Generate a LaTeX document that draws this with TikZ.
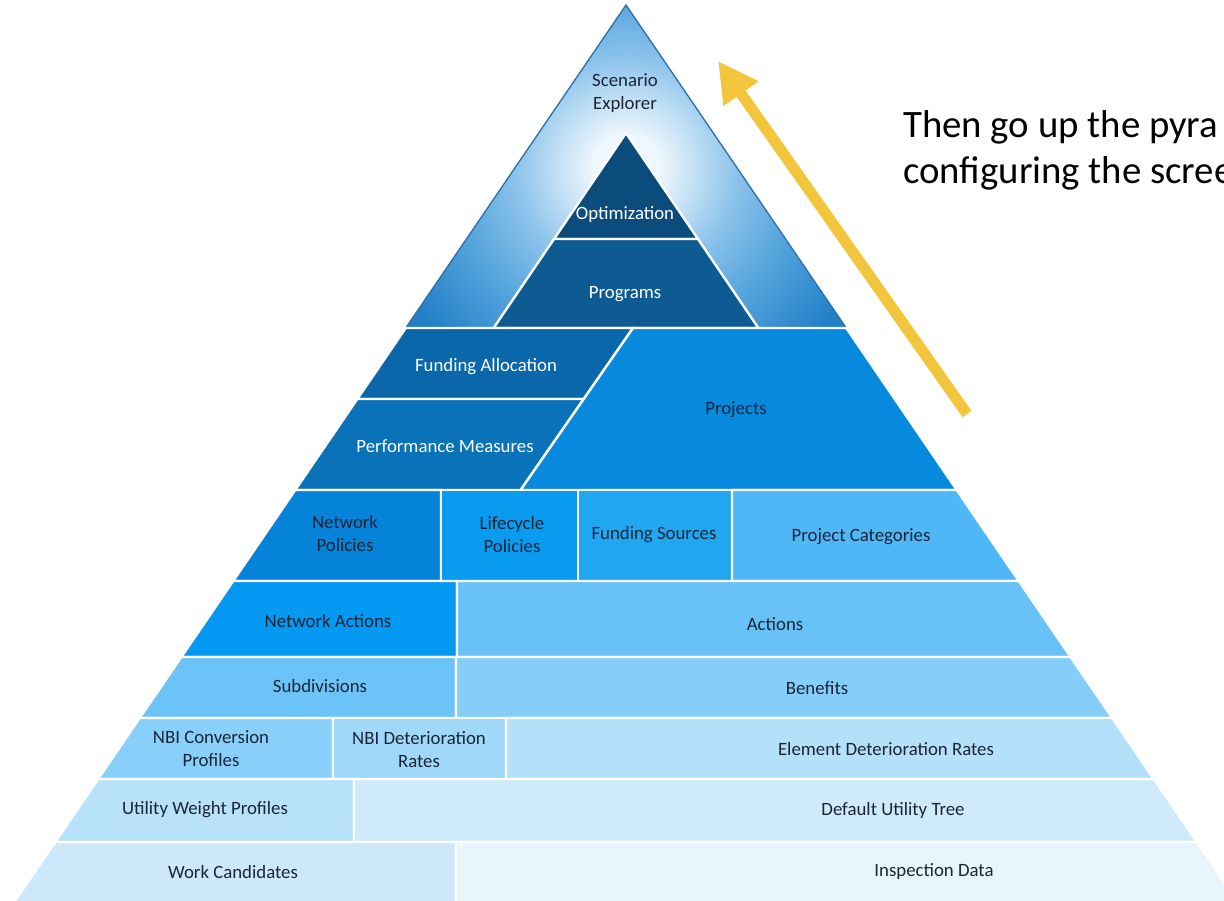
\documentclass[tikz,border=0pt]{standalone}
\usepackage{fontspec}
\setmainfont{Carlito}
\usetikzlibrary{arrows.meta}
\definecolor{bigin}{HTML}{EEF7FD}
\definecolor{bigl}{HTML}{C6E2F6}
\definecolor{bigm}{HTML}{8AC2EA}
\definecolor{bigmid}{HTML}{55A4DC}
\definecolor{bigout}{HTML}{2380C8}
\definecolor{bigfar}{HTML}{1B76C0}
\definecolor{bigedge}{HTML}{2A6FA8}
\definecolor{optc}{HTML}{0B4C7C}
\definecolor{progc}{HTML}{0E5B93}
\definecolor{fundc}{HTML}{0A67AA}
\definecolor{perfc}{HTML}{0A72B9}
\definecolor{projc}{HTML}{0789DE}
\definecolor{netpolc}{HTML}{0583D8}
\definecolor{lifec}{HTML}{089BEF}
\definecolor{fsrcc}{HTML}{21A7F2}
\definecolor{pcatc}{HTML}{4FB7F6}
\definecolor{netactc}{HTML}{0398F1}
\definecolor{actc}{HTML}{68C2F7}
\definecolor{subdc}{HTML}{6CC3F7}
\definecolor{benc}{HTML}{84CEF9}
\definecolor{nbicc}{HTML}{88CFF9}
\definecolor{nbidc}{HTML}{A0D8FA}
\definecolor{elemc}{HTML}{B5E0FA}
\definecolor{uwpc}{HTML}{B8E1FA}
\definecolor{dutc}{HTML}{CFEAFB}
\definecolor{workc}{HTML}{CDE8FB}
\definecolor{inspc}{HTML}{E8F5FD}
\definecolor{txtdark}{HTML}{1A2536}
\definecolor{arrowc}{HTML}{F1C53C}
\pgfdeclareradialshading{bigshade}{\pgfpoint{0bp}{0bp}}{color(0bp)=(bigin); color(2.5bp)=(bigin); color(5bp)=(bigl); color(8.5bp)=(bigm); color(13bp)=(bigmid); color(19bp)=(bigout); color(25bp)=(bigfar); color(50bp)=(bigfar)}
\begin{document}
\begin{tikzpicture}[x=1pt,y=-1pt,
  declare function={xl(\v)=626-0.682*(\v-5); xr(\v)=626+0.682*(\v-5); sl(\v)=633-0.694*(\v-328); ti(\v)=0.679*(\v-133);},
  tile/.style={draw=white, line width=2.4pt, line join=miter},
  lab/.style={font=\fontsize{18.8}{23}\selectfont, text=txtdark, align=center, inner sep=0pt},
  labw/.style={lab, text=white},
  note/.style={font=\fontsize{38.8}{46}\selectfont, text=black, inner sep=0pt, anchor=base west},
  bigarrow/.style={draw=arrowc, line width=11pt, -{Triangle[length=40pt,width=40pt]}}]
\useasboundingbox (0,0) rectangle (1224,900);
% top triangle with radial gradient
\begin{scope}
  \clip (626,5) -- ({xr(328)},328) -- ({xl(328)},328) -- cycle;
  \shade[shading=bigshade] (626,168) circle (330);
\end{scope}
\draw[bigedge, line width=1.3pt] ({xl(327)},327) -- (626,5) -- ({xr(327)},327);
% inner triangle
\fill[optc, tile] (626,133) -- ({626+ti(239)},239) -- ({626-ti(239)},239) -- cycle;
\fill[progc, tile] ({626-ti(239)},239) -- ({626+ti(239)},239) -- ({626+ti(328)},328) -- ({626-ti(328)},328) -- cycle;
% row 1
\fill[fundc, tile] ({xl(328)},328) -- ({sl(328)},328) -- ({sl(399)},399) -- ({xl(399)},399) -- cycle;
\fill[perfc, tile] ({xl(399)},399) -- ({sl(399)},399) -- ({sl(490)},490) -- ({xl(490)},490) -- cycle;
\fill[projc, tile] ({sl(328)},328) -- ({xr(328)},328) -- ({xr(490)},490) -- ({sl(490)},490) -- cycle;
% row 2
\fill[netpolc, tile] ({xl(490)},490) -- (441,490) -- (441,581) -- ({xl(581)},581) -- cycle;
\fill[lifec, tile] (441,490) rectangle (578,581);
\fill[fsrcc, tile] (578,490) rectangle (732,581);
\fill[pcatc, tile] (732,490) -- ({xr(490)},490) -- ({xr(581)},581) -- (732,581) -- cycle;
% row 3
\fill[netactc, tile] ({xl(581)},581) -- (457,581) -- (457,657) -- ({xl(657)},657) -- cycle;
\fill[actc, tile] (457,581) -- ({xr(581)},581) -- ({xr(657)},657) -- (457,657) -- cycle;
% row 4
\fill[subdc, tile] ({xl(657)},657) -- (456,657) -- (456,718) -- ({xl(718)},718) -- cycle;
\fill[benc, tile] (456,657) -- ({xr(657)},657) -- ({xr(718)},718) -- (456,718) -- cycle;
% row 5
\fill[nbicc, tile] ({xl(718)},718) -- (333,718) -- (333,779) -- ({xl(779)},779) -- cycle;
\fill[nbidc, tile] (333,718) rectangle (506,779);
\fill[elemc, tile] (506,718) -- ({xr(718)},718) -- ({xr(779)},779) -- (506,779) -- cycle;
% row 6
\fill[uwpc, tile] ({xl(779)},779) -- (354,779) -- (354,842) -- ({xl(842)},842) -- cycle;
\fill[dutc, tile] (354,779) -- ({xr(779)},779) -- ({xr(842)},842) -- (354,842) -- cycle;
% row 7
\fill[workc, tile] ({xl(842)},842) -- (456,842) -- (456,910) -- ({xl(910)},910) -- cycle;
\fill[inspc, tile] (456,842) -- ({xr(842)},842) -- ({xr(910)},910) -- (456,910) -- cycle;
% labels
\node[lab] (scen) at (625,93) {Scenario\\Explorer};
\node[labw] (opt) at (625,215) {Optimization};
\node[labw] (prog) at (625,294) {Programs};
\node[labw] (fund) at (486,367) {Funding Allocation};
\node[labw] (perf) at (445,446) {Performance Measures};
\node[lab] (proj) at (736,410) {Projects};
\node[lab] (netpol) at (345,534) {Network\\Policies};
\node[lab] (life) at (512,535) {Lifecycle\\Policies};
\node[lab] (fsrc) at (654,535) {Funding Sources};
\node[lab] (pcat) at (861,537) {Project Categories};
\node[lab] (netact) at (328,621) {Network Actions};
\node[lab] (act) at (775,624) {Actions};
\node[lab] (subd) at (320,686) {Subdivisions};
\node[lab] (ben) at (817,688) {Benefits};
\node[lab] (nbic) at (211,749) {NBI Conversion\\Profiles};
\node[lab] (nbid) at (419,750) {NBI Deterioration\\Rates};
\node[lab] (elem) at (886,749) {Element Deterioration Rates};
\node[lab] (uwp) at (205,810) {Utility Weight Profiles};
\node[lab] (dut) at (893,810) {Default Utility Tree};
\node[lab] (work) at (233,872) {Work Candidates};
\node[lab] (insp) at (934,872) {Inspection Data};
% note text
\node[note] (note1) at (903,137) {Then go up the pyra};
\node[note] (note2) at (903,183) {configuring the scree};
% arrow
\coordinate (arrowtail) at (967,414);
\coordinate (arrowtip) at (718,61);
\draw[bigarrow] (arrowtail) -- (arrowtip);
\end{tikzpicture}
\end{document}
